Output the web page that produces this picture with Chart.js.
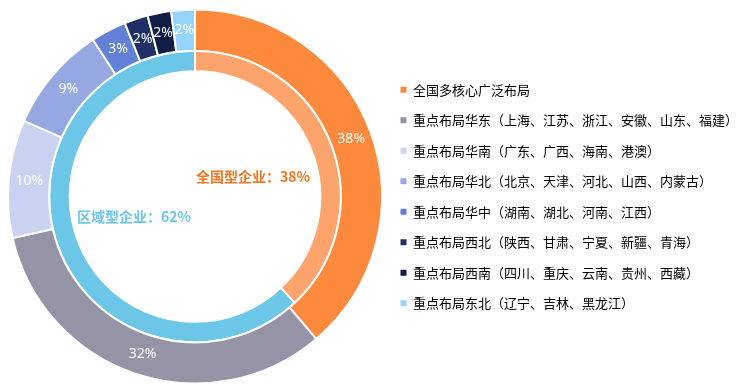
<!DOCTYPE html>
<html>
<head>
<meta charset="utf-8">
<script src="https://cdn.jsdelivr.net/npm/chart.js@4.4.0/dist/chart.umd.min.js"></script>
<style>
  html, body { margin: 0; padding: 0; background: #fff; }
  #wrap { width: 745px; height: 390px; }
</style>
</head>
<body>
<div id="wrap"><canvas id="layoutChart"></canvas></div>
<script>
// 外环：区域布局
const regionLabels = [
  '全国多核心广泛布局',
  '重点布局华东（上海、江苏、浙江、安徽、山东、福建）',
  '重点布局华南（广东、广西、海南、港澳）',
  '重点布局华北（北京、天津、河北、山西、内蒙古）',
  '重点布局华中（湖南、湖北、河南、江西）',
  '重点布局西北（陕西、甘肃、宁夏、新疆、青海）',
  '重点布局西南（四川、重庆、云南、贵州、西藏）',
  '重点布局东北（辽宁、吉林、黑龙江）'
];
const regionValues = [38, 32, 10, 9, 3, 2, 2, 2];
const regionColors = ['#FC893C', '#9494A6', '#C9D2F1', '#95A8E1', '#6281D6', '#1F3069', '#111D45', '#95D3FC'];

// 内环：企业类型
const typeLabels = ['全国型企业', '区域型企业'];
const typeValues = [38, 62];
const typeColors = ['#FDA46C', '#6CC6E8'];
const typeTextColors = ['#F7761F', '#6CC6E8'];

const FONT_CN = '"Noto Sans CJK SC", "Noto Sans", sans-serif';

// 画百分比标签和中间的两行文字
const ringLabels = {
  id: 'ringLabels',
  afterDatasetsDraw(chart) {
    const ctx = chart.ctx;
    ctx.save();
    ctx.textAlign = 'center';
    ctx.textBaseline = 'middle';
    ctx.fillStyle = '#ffffff';
    ctx.font = '14px "Noto Sans", sans-serif';
    chart.getDatasetMeta(0).data.forEach((arc, i) => {
      const p = arc.tooltipPosition();
      ctx.fillText(regionValues[i] + '%', p.x, p.y);
    });

    const center = chart.getDatasetMeta(1).data[0];
    const offsets = [[58, -20], [-61, 20]];
    ctx.font = 'bold 14px ' + FONT_CN;
    typeLabels.forEach((name, i) => {
      ctx.fillStyle = typeTextColors[i];
      ctx.fillText(name + '：' + typeValues[i] + '%', center.x + offsets[i][0], center.y + offsets[i][1]);
    });
    ctx.restore();
  }
};

const ctx = document.getElementById('layoutChart').getContext('2d');
new Chart(ctx, {
  type: 'doughnut',
  data: {
    labels: regionLabels,
    datasets: [
      { data: regionValues, backgroundColor: regionColors, borderColor: '#ffffff', borderWidth: 2, weight: 2 },
      { data: typeValues, backgroundColor: typeColors, borderColor: '#ffffff', borderWidth: 2, weight: 1 }
    ]
  },
  options: {
    responsive: true,
    maintainAspectRatio: false,
    animation: false,
    cutout: '67%',
    layout: { padding: { left: 7, top: 8, bottom: 5, right: 0 } },
    plugins: {
      tooltip: { enabled: false },
      legend: {
        position: 'right',
        maxWidth: 362,
        labels: {
          boxWidth: 6,
          boxHeight: 6,
          padding: 17.5,
          color: '#595959',
          font: { size: 13, family: FONT_CN },
          generateLabels: () => regionLabels.map((text, i) => ({
            text: text,
            fillStyle: regionColors[i],
            strokeStyle: regionColors[i],
            lineWidth: 0,
            hidden: false,
            index: i
          }))
        }
      }
    }
  },
  plugins: [ringLabels]
});
</script>
</body>
</html>
